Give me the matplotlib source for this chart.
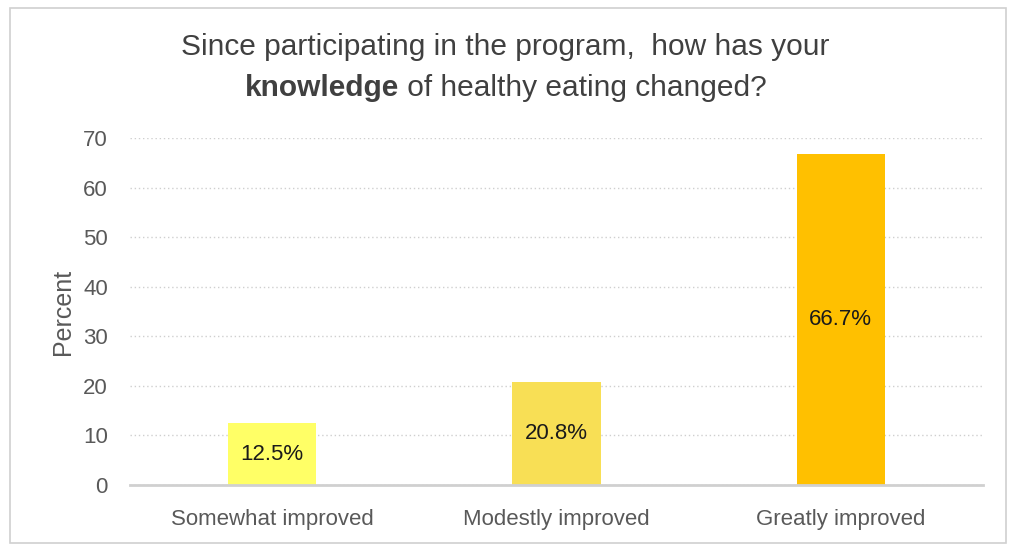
import matplotlib
matplotlib.use("Agg")
import matplotlib.pyplot as plt
from matplotlib.patches import Rectangle

categories = ["Somewhat improved", "Modestly improved", "Greatly improved"]
percent = [12.5, 20.8, 66.7]
bar_colors = ["#FFFF66", "#F8DF55", "#FFC000"]
yticks = [0, 10, 20, 30, 40, 50, 60, 70]

plt.rcParams["font.family"] = ["Liberation Sans", "DejaVu Sans"]

fig = plt.figure(figsize=(10.11, 5.46), dpi=100)
fig.patch.set_facecolor("white")
fig.add_artist(Rectangle((10 / 1011, 3 / 546), 996 / 1011, 535 / 546,
                         transform=fig.transFigure, fill=False,
                         edgecolor="#D0D0D0", linewidth=1.2))

ax = fig.add_axes([130 / 1011, 61 / 546, 853 / 1011, 347 / 546])
x = range(len(categories))
bars = ax.bar(x, percent, width=0.31, color=bar_colors, zorder=3)

for b, v in zip(bars, percent):
    ax.text(b.get_x() + b.get_width() / 2, v / 2, f"{v:.1f}%",
            ha="center", va="center", fontsize=16, color="#1a1a1a", zorder=4)

ax.set_xlim(-0.5, 2.5)
ax.set_ylim(0, 70)
ax.set_yticks(yticks)
ax.set_xticks(list(x))
ax.set_xticklabels(categories)
ax.tick_params(axis="both", length=0, labelsize=16, colors="#595959")
ax.tick_params(axis="y", pad=16)
ax.tick_params(axis="x", pad=17)
ax.yaxis.grid(True, linestyle=(0, (1, 2)), color="#CFCFCF", linewidth=1.0, zorder=0)
for s in ["top", "right", "left"]:
    ax.spines[s].set_visible(False)
ax.spines["bottom"].set_color("#D0D0D0")
ax.spines["bottom"].set_linewidth(2)
ax.spines["bottom"].set_zorder(5)
ax.set_ylabel("Percent", fontsize=18, color="#595959", labelpad=6)

title_size = 21.5
title_color = "#404040"
fig.text(0.5, 1 - 47 / 546, "Since participating in the program,  how has your",
         ha="center", va="center", fontsize=title_size, color=title_color)

# second title line: bold word followed by regular text, centred as a whole
y2 = 1 - 88 / 546
bold_part = "knowledge"
rest_part = " of healthy eating changed?"
t1 = fig.text(0, y2, bold_part, ha="left", va="center", fontsize=title_size,
              color=title_color, fontweight="bold")
t2 = fig.text(0, y2, rest_part, ha="left", va="center", fontsize=title_size,
              color=title_color)
renderer = fig.canvas.get_renderer()
w1 = t1.get_window_extent(renderer).width
w2 = t2.get_window_extent(renderer).width
W = fig.bbox.width
start = (W - (w1 + w2)) / 2
t1.set_x(start / W)
t2.set_x((start + w1) / W)

fig.savefig("out.png", dpi=100, facecolor="white")
